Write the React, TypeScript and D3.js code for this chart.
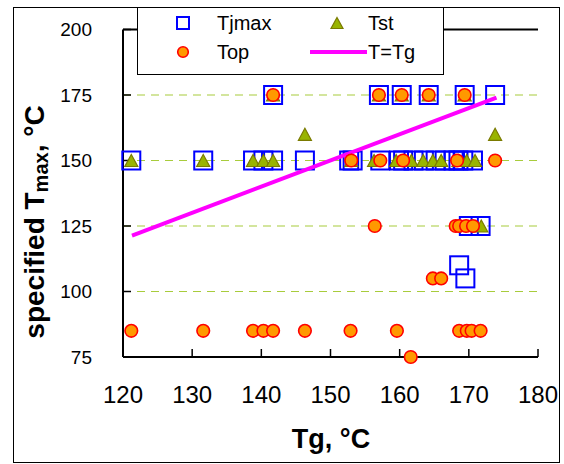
import React from "react";
import * as d3 from "d3";

const xTicks = [120, 130, 140, 150, 160, 170, 180];
const yTicks = [75, 100, 125, 150, 175, 200];
const gridValues = [100, 125, 150, 175];

const tjmaxTg = [141.7, 157.0, 160.3, 164.2, 169.4, 173.8,
  121.2, 131.6, 138.8, 140.3, 141.7, 146.3, 152.7, 153.2, 157.2, 159.9, 160.5, 162.0, 163.5, 165.2, 166.5, 167.8, 168.5, 169.2, 170.6,
  170.0, 171.7, 168.6, 169.5];
const tjmaxT = [175, 175, 175, 175, 175, 175,
  150, 150, 150, 150, 150, 150, 150, 150, 150, 150, 150, 150, 150, 150, 150, 150, 150, 150, 150,
  125, 125, 110, 105];

const tstTg = [141.7, 157.0, 160.3, 164.2, 169.4,
  146.3, 173.8,
  121.2, 131.6, 138.8, 140.3, 141.7, 153.0, 156.3, 159.5, 161.7, 163.4, 164.8, 166.0, 168.5, 169.7, 170.9,
  171.8];
const tstT = [175, 175, 175, 175, 175,
  160, 160,
  150, 150, 150, 150, 150, 150, 150, 150, 150, 150, 150, 150, 150, 150, 150,
  125];

const topTg = [141.7, 157.0, 160.3, 164.2, 169.4,
  153.0, 157.2, 160.5, 168.3, 173.8,
  156.4, 168.1, 168.6, 169.6, 170.6,
  164.8, 166.0,
  121.2, 131.6, 138.8, 140.3, 141.7, 146.3, 152.9, 159.6, 168.6, 169.7, 170.4, 171.7,
  161.6];
const topT = [175, 175, 175, 175, 175,
  150, 150, 150, 150, 150,
  125, 125, 125, 125, 125,
  105, 105,
  85, 85, 85, 85, 85, 85, 85, 85, 85, 85, 85, 85,
  75];

const lineTg = [121.3, 174.0];

const FONT = "'Liberation Sans', Arial, sans-serif";

export default function App() {
  const left = 123, right = 538, top = 29.5, bottom = 357;
  const x = d3.scaleLinear().domain([120, 180]).range([left, right]);
  const y = d3.scaleLinear().domain([75, 200]).range([bottom, top]);
  const line = d3.line<number>().x((d) => x(d)).y((d) => y(d));
  const tri = (cx: number, cy: number, w: number, h: number) =>
    `M${cx},${cy - h / 2}L${cx + w / 2},${cy + h / 2}L${cx - w / 2},${cy + h / 2}Z`;

  return (
    <svg width={564} height={464} style={{ position: "absolute", left: 0, top: 0, background: "#fff" }} fontFamily={FONT}>
      <rect x={13.5} y={7.5} width={546} height={455} fill="#fff" stroke="#000" strokeWidth={1} />
      {gridValues.map((v) => (
        <line key={v} x1={left} x2={right} y1={y(v)} y2={y(v)} stroke="#A8CC3C" strokeWidth={1.2} strokeDasharray="8,6" />
      ))}
      <line x1={left} x2={right} y1={top} y2={top} stroke="#000" strokeWidth={2} />
      <line x1={left} x2={left} y1={top} y2={bottom} stroke="#000" strokeWidth={2} />
      <line x1={left} x2={right} y1={bottom} y2={bottom} stroke="#000" strokeWidth={2} />
      {yTicks.map((v) => (
        <g key={v}>
          <line x1={left} x2={left + 8} y1={y(v)} y2={y(v)} stroke="#000" strokeWidth={1.5} />
          <text x={92} y={y(v)} dy="0.36em" textAnchor="end" fontSize={19}>{v}</text>
        </g>
      ))}
      {xTicks.map((v) => (
        <g key={v}>
          <line x1={x(v)} x2={x(v)} y1={bottom} y2={bottom - 8} stroke="#000" strokeWidth={1.5} />
          <text x={x(v)} y={403} textAnchor="middle" fontSize={24}>{v}</text>
        </g>
      ))}
      {tjmaxTg.map((t, i) => (
        <rect key={"s" + i} x={x(t) - 9} y={y(tjmaxT[i]) - 9} width={18} height={18} fill="none" stroke="#0000FF" strokeWidth={2} />
      ))}
      <path d={line(lineTg) || ""} stroke="#FF00FF" strokeWidth={4} fill="none" />
      {tstTg.map((t, i) => (
        <path key={"t" + i} d={tri(x(t), y(tstT[i]), 13, 12)} fill="#99B400" stroke="#7A7A00" strokeWidth={1.2} />
      ))}
      {topTg.map((t, i) => (
        <circle key={"c" + i} cx={x(t)} cy={y(topT[i])} r={6.3} fill="#FF9900" stroke="#FF0000" strokeWidth={1.6} />
      ))}
      <g>
        <rect x={137.5} y={7.5} width={306} height={67} fill="#fff" stroke="#000" strokeWidth={1} />
        <rect x={177} y={17} width={12} height={12} fill="none" stroke="#0000FF" strokeWidth={2} />
        <text x={217} y={29.5} fontSize={20}>Tjmax</text>
        <path d={tri(337, 23, 12, 11)} fill="#99B400" stroke="#7A7A00" strokeWidth={1.2} />
        <text x={368} y={29.5} fontSize={20}>Tst</text>
        <circle cx={183} cy={52} r={5.3} fill="#FF9900" stroke="#FF0000" strokeWidth={1.6} />
        <text x={217} y={58.5} fontSize={20}>Top</text>
        <line x1={310} x2={367} y1={52} y2={52} stroke="#FF00FF" strokeWidth={4} />
        <text x={368} y={58.5} fontSize={20}>T=Tg</text>
      </g>
      <text x={331} y={448} textAnchor="middle" fontSize={27} fontWeight="bold">Tg, °C</text>
      <text transform="translate(44,222) rotate(-90)" textAnchor="middle" fontSize={28} fontWeight="bold">
        specified T<tspan fontSize={20} dy={4}>max</tspan><tspan dy={-4}>, °C</tspan>
      </text>
    </svg>
  );
}
